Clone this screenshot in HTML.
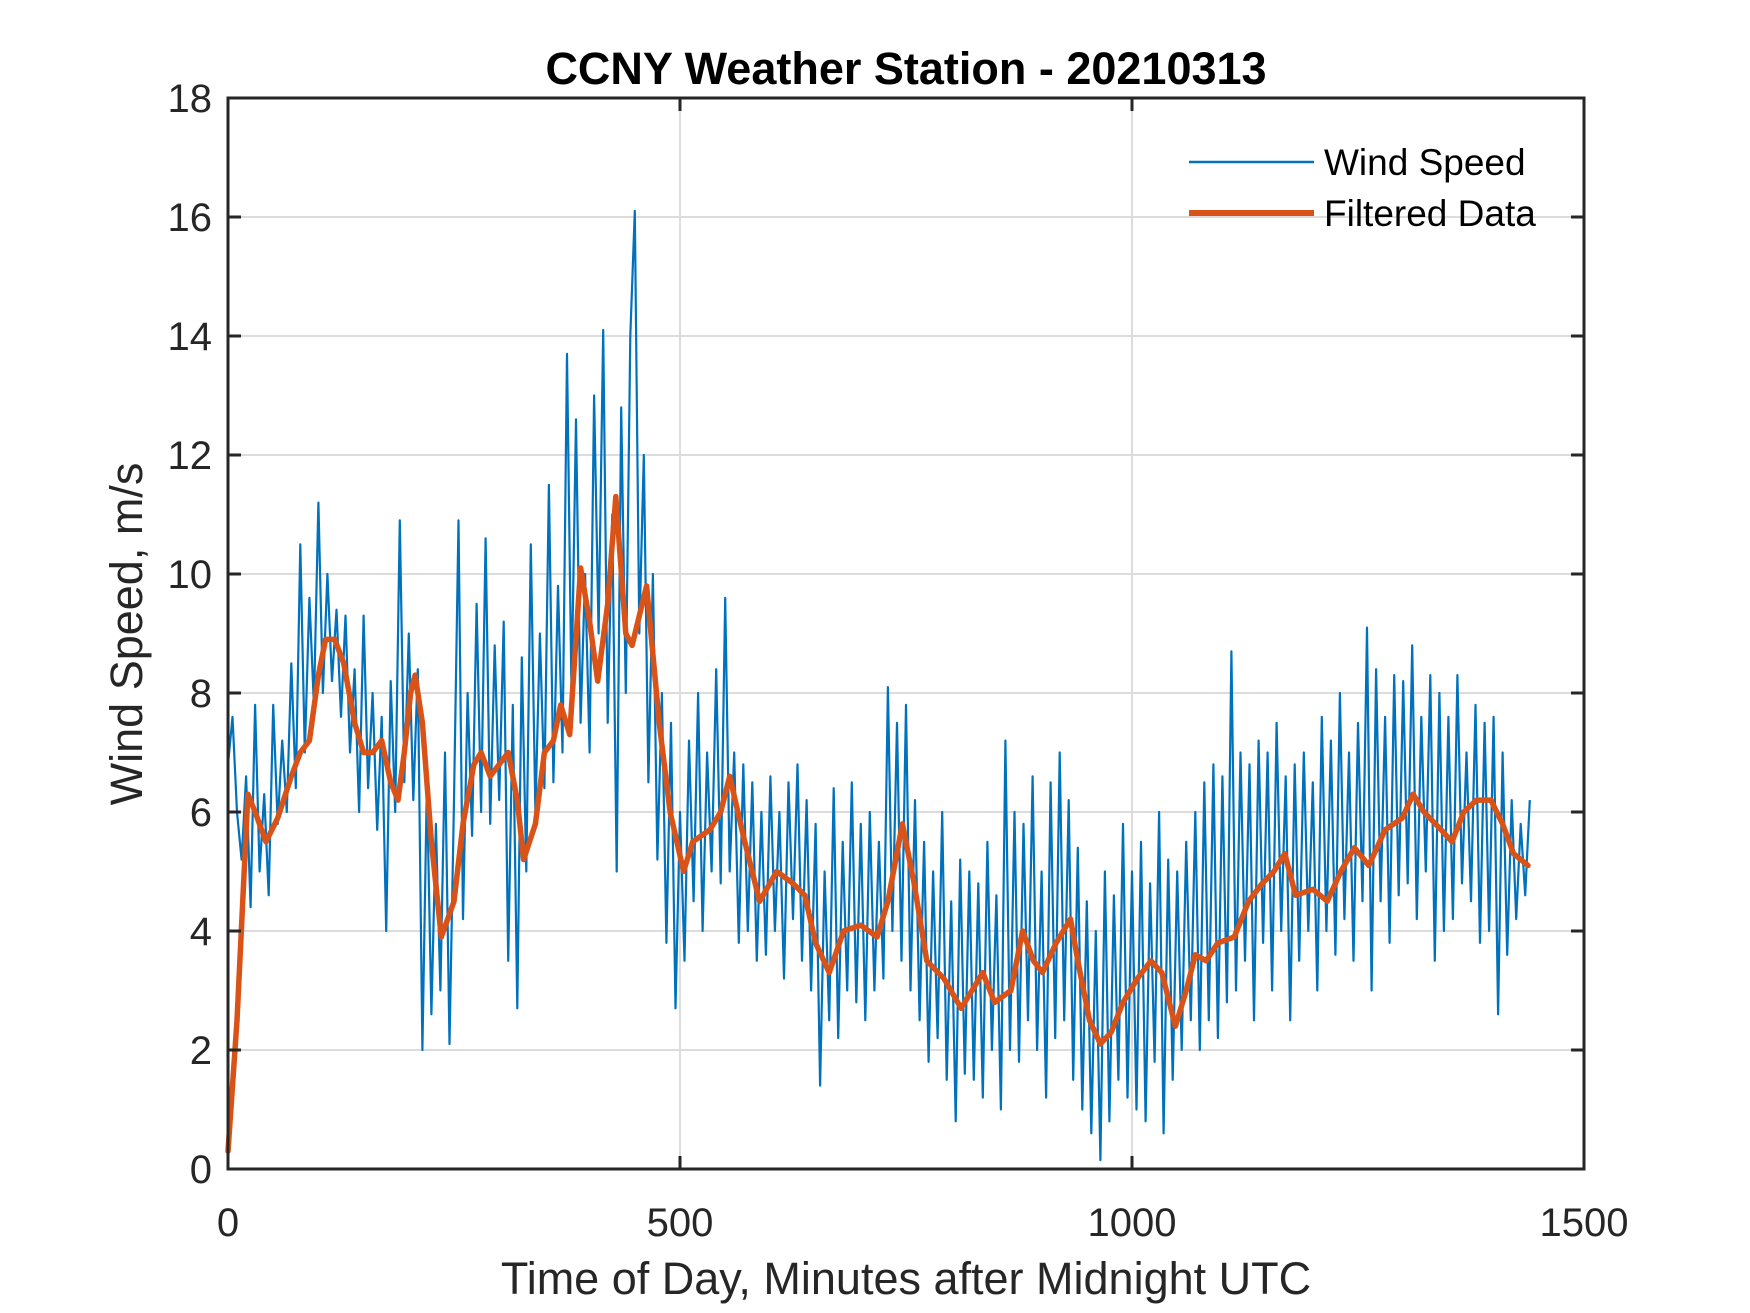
<!DOCTYPE html>
<html><head><meta charset="utf-8"><style>
html,body{margin:0;padding:0;background:#fff;}
svg{display:block;}
text{font-family:"Liberation Sans",Arial,sans-serif;fill:#262626;}
</style></head><body>
<svg id="chart" width="1750" height="1313" viewBox="0 0 1750 1313" xmlns="http://www.w3.org/2000/svg">
<rect x="0" y="0" width="1750" height="1313" fill="#fff"/>
<g id="grid"></g>
<g id="plot"></g>
<rect x="228" y="98" width="1356" height="1071" fill="none" stroke="#262626" stroke-width="3"/>
<g id="ticks"></g>
<text x="906" y="84" text-anchor="middle" font-size="45" font-weight="bold" style="fill:#000">CCNY Weather Station - 20210313</text>
<text x="906" y="1294" text-anchor="middle" font-size="45">Time of Day, Minutes after Midnight UTC</text>
<text x="0" y="0" text-anchor="middle" font-size="45" transform="translate(142,634) rotate(-90)">Wind Speed, m/s</text>
<g>
<line x1="1189" y1="162" x2="1314" y2="162" stroke="#0072BD" stroke-width="2.5"/>
<text x="1324" y="175" font-size="37" style="fill:#000">Wind Speed</text>
<line x1="1189" y1="213" x2="1314" y2="213" stroke="#D95319" stroke-width="6"/>
<text x="1324" y="226" font-size="37" style="fill:#000">Filtered Data</text>
</g>
</svg>
<script>
const xTicks = [0, 500, 1000, 1500];
const yTicks = [0, 2, 4, 6, 8, 10, 12, 14, 16, 18];
const rawStep = 5;
const rawSpeed = [
6.8,7.6,6.0,5.2,6.6,4.4,7.8,5.0,6.3,4.6,
7.8,5.8,7.2,6.0,8.5,6.4,10.5,7.0,9.6,7.8,
11.2,8.0,10.0,8.2,9.4,7.6,9.3,7.0,8.4,6.0,
9.3,6.4,8.0,5.7,7.6,4.0,8.2,6.0,10.9,6.5,
9.0,6.2,8.4,2.0,6.5,2.6,5.8,3.0,7.0,2.1,
6.2,10.9,4.2,8.0,5.6,9.5,6.0,10.6,5.8,8.8,
6.2,9.2,3.5,7.8,2.7,8.6,5.0,10.5,6.0,9.0,
6.4,11.5,6.5,9.8,7.0,13.7,8.0,12.6,7.5,10.0,
7.0,13.0,9.0,14.1,7.5,11.0,5.0,12.8,8.0,14.0,
16.1,9.0,12.0,6.5,10.0,5.2,8.0,3.8,7.5,2.7,
6.0,3.5,7.2,4.5,8.0,4.0,7.0,5.0,8.4,4.8,
9.6,5.0,7.0,3.8,6.8,4.0,6.5,3.5,6.0,3.6,
6.6,4.0,6.0,3.2,6.5,4.2,6.8,3.5,6.2,3.0,
5.8,1.4,5.0,2.5,6.4,2.2,5.5,3.0,6.5,2.8,
5.8,2.5,6.0,3.0,5.5,3.2,8.1,4.0,7.5,3.5,
7.8,3.0,6.2,2.5,5.5,1.8,5.0,2.2,6.0,1.5,
4.5,0.8,5.2,1.6,5.0,1.5,4.8,1.2,5.5,2.0,
4.6,1.0,7.2,2.0,6.0,1.8,5.8,2.5,6.6,2.0,
5.0,1.2,6.5,2.2,7.0,2.5,6.2,1.5,5.4,1.0,
4.5,0.6,4.0,0.15,5.0,0.8,4.6,1.5,5.8,1.2,
5.0,1.0,5.5,0.8,4.8,1.8,6.0,0.6,5.2,1.5,
5.0,2.0,5.5,2.5,6.0,2.0,6.5,2.5,6.8,2.2,
6.6,2.8,8.7,3.0,7.0,3.5,6.8,2.5,7.2,3.8,
7.0,3.0,7.5,4.0,6.6,2.5,6.8,3.5,7.0,4.0,
6.5,3.0,7.6,4.0,7.2,3.6,8.0,4.2,7.0,3.5,
7.5,4.5,9.1,3.0,8.4,4.5,7.6,3.8,8.3,4.6,
8.2,4.8,8.8,4.2,7.6,5.0,8.3,3.5,8.0,4.0,
7.6,4.2,8.3,4.8,7.0,4.5,7.8,3.8,7.5,4.0,
7.6,2.6,7.0,3.6,6.2,4.2,5.8,4.6,6.2
];
const filtT = [0,10,22,30,42,55,70,80,90,100,108,118,128,140,150,160,170,180,188,195,202,207,215,225,236,250,260,272,280,290,300,310,320,327,340,350,360,368,378,390,400,409,420,429,440,447,463,477,489,504,514,533,545,555,570,588,607,625,638,650,665,681,700,718,730,746,759,773,792,811,823,835,848,866,879,891,901,916,932,940,953,965,977,990,1006,1021,1033,1048,1060,1070,1082,1095,1113,1129,1144,1157,1169,1181,1200,1216,1231,1246,1262,1280,1299,1311,1323,1342,1354,1367,1381,1397,1410,1422,1438];
const filtV = [0.3,2.5,6.3,6.0,5.5,5.9,6.6,7.0,7.2,8.3,8.9,8.9,8.5,7.5,7.0,7.0,7.2,6.5,6.2,7.0,8.0,8.3,7.5,5.5,3.9,4.5,5.8,6.8,7.0,6.6,6.8,7.0,6.2,5.2,5.8,7.0,7.2,7.8,7.3,10.1,9.2,8.2,9.5,11.3,9.0,8.8,9.8,7.5,6.0,5.0,5.5,5.7,6.0,6.6,5.6,4.5,5.0,4.8,4.6,3.8,3.3,4.0,4.1,3.9,4.5,5.8,4.8,3.5,3.2,2.7,3.0,3.3,2.8,3.0,4.0,3.5,3.3,3.8,4.2,3.5,2.5,2.1,2.3,2.8,3.2,3.5,3.3,2.4,3.0,3.6,3.5,3.8,3.9,4.5,4.8,5.0,5.3,4.6,4.7,4.5,5.0,5.4,5.1,5.7,5.9,6.3,6.0,5.7,5.5,6.0,6.2,6.2,5.8,5.3,5.1];

const X0 = 228, X1 = 1584, Y0 = 1169, Y1 = 98;
function xs(t){ return X0 + (t - 0) / 1500 * (X1 - X0); }
function ys(v){ return Y0 - v / 18 * (Y0 - Y1); }
const NS = 'http://www.w3.org/2000/svg';
const grid = document.getElementById('grid');
const ticks = document.getElementById('ticks');
const plot = document.getElementById('plot');
function mk(tag, attrs, parent){ const e = document.createElementNS(NS, tag); for (const k in attrs) e.setAttribute(k, attrs[k]); parent.appendChild(e); return e; }

xTicks.forEach(t => {
  const x = xs(t);
  if (t > 0 && t < 1500) {
    const g = mk('line', {x1:x, y1:Y1, x2:x, y2:Y0, stroke:'#dcdcdc', 'stroke-width':2}, grid);
    
    
  }
  const a = mk('line', {x1:x, y1:Y0, x2:x, y2:Y0-13, stroke:'#262626', 'stroke-width':3}, ticks);
  
  
  const b = mk('line', {x1:x, y1:Y1, x2:x, y2:Y1+13, stroke:'#262626', 'stroke-width':3}, ticks);
  
  
  const l = mk('text', {x:x, y:1236, 'text-anchor':'middle', 'font-size':40}, ticks);
  l.textContent = t;
  
  
});
yTicks.forEach(v => {
  const y = ys(v);
  if (v > 0 && v < 18) {
    const g = mk('line', {x1:X0, y1:y, x2:X1, y2:y, stroke:'#dcdcdc', 'stroke-width':2}, grid);
    
    
  }
  const a = mk('line', {x1:X0, y1:y, x2:X0+13, y2:y, stroke:'#262626', 'stroke-width':3}, ticks);
  
  
  const b = mk('line', {x1:X1, y1:y, x2:X1-13, y2:y, stroke:'#262626', 'stroke-width':3}, ticks);
  
  
  const l = mk('text', {x:212, y:y+14, 'text-anchor':'end', 'font-size':40}, ticks);
  l.textContent = v;
  
  
});

const rawPts = rawSpeed.map((v, i) => xs(i * rawStep).toFixed(1) + ',' + ys(v).toFixed(1)).join(' ');
const raw = mk('polyline', {points: rawPts, fill:'none', stroke:'#0072BD', 'stroke-width':2.2, 'stroke-linejoin':'round'}, plot);



const fPts = filtT.map((t, i) => xs(t).toFixed(1) + ',' + ys(filtV[i]).toFixed(1)).join(' ');
const filt = mk('polyline', {points: fPts, fill:'none', stroke:'#D95319', 'stroke-width':5.5, 'stroke-linejoin':'round', 'stroke-linecap':'round'}, plot);


</script>
</body></html>
